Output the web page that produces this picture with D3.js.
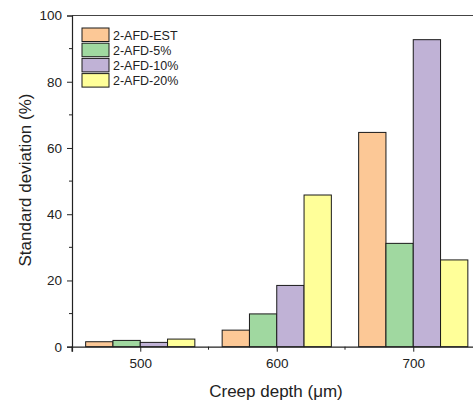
<!DOCTYPE html>
<html><head><meta charset="utf-8">
<script src="https://cdn.jsdelivr.net/npm/d3@7"></script>
<style>body{margin:0;background:#fff}svg{display:block}text{font-family:"Liberation Sans",Arial,sans-serif;fill:#222}</style>
</head><body>
<script>
const categories = [500, 600, 700];
const seriesNames = ["2-AFD-EST", "2-AFD-5%", "2-AFD-10%", "2-AFD-20%"];
const seriesColors = ["#fcc896", "#a0d8a0", "#c0b2d6", "#ffff99"];
const valuesEST = [1.5, 5.0, 64.7];
const values5 = [1.9, 9.9, 31.2];
const values10 = [1.3, 18.5, 92.7];
const values20 = [2.3, 45.8, 26.2];
const series = [valuesEST, values5, values10, values20];
const yTicks = [0, 20, 40, 60, 80, 100];
const yMinor = [10, 30, 50, 70, 90];
const xTicks = [500, 600, 700];
const xMinor = [550, 650];

const W = 473, H = 403;
const svg = d3.select("body").append("svg").attr("width", W).attr("height", H);
const x = d3.scaleLinear().domain([450, 750]).range([72, 481.5]);
const y = d3.scaleLinear().domain([0, 100]).range([346.7, 15.5]);
const barW = 20;

const g = svg.append("g");
series.forEach((vals, si) => {
  g.selectAll(null).data(vals).enter().append("rect")
    .attr("x", (d, i) => x(categories[i] - 40 + si * barW))
    .attr("width", x(barW) - x(0))
    .attr("y", d => y(d))
    .attr("height", d => y(0) - y(d))
    .attr("fill", seriesColors[si])
    .attr("stroke", "#1a1a1a").attr("stroke-width", 1);
});

// frame top
svg.append("line").attr("x1", x(450)).attr("x2", W).attr("y1", y(100)).attr("y2", y(100))
  .attr("stroke", "#444").attr("stroke-width", 1.2);

const fontF = '"Liberation Sans",Arial,sans-serif';
// y axis
const ya = svg.append("g").attr("transform", `translate(${x(450)},0)`)
  .call(d3.axisLeft(y).tickValues(yTicks).tickSize(5).tickPadding(5).tickFormat(d3.format("d")));
ya.selectAll(null).data(yMinor).enter().append("line")
  .attr("x1", -3).attr("x2", 0).attr("y1", d => y(d)).attr("y2", d => y(d)).attr("stroke", "#222");
// x axis
const xa = svg.append("g").attr("transform", `translate(0,${y(0)})`)
  .call(d3.axisBottom(x).tickValues(xTicks).tickSize(5).tickPadding(7).tickFormat(d3.format("d")));
xa.selectAll(null).data(xMinor).enter().append("line")
  .attr("y1", 0).attr("y2", 3).attr("x1", d => x(d)).attr("x2", d => x(d)).attr("stroke", "#222");
xa.append("line").attr("x1", x(450)).attr("x2", x(450)).attr("y1", 0).attr("y2", 5).attr("stroke", "#222");
[ya, xa].forEach(a => {
  a.select(".domain").attr("stroke", "#222").attr("stroke-width", 1.2);
  a.selectAll(".tick line").attr("stroke", "#222");
  a.selectAll(".tick text").attr("font-size", 13.5).attr("fill", "#222").attr("font-family", fontF);
});

svg.append("text").attr("x", 276).attr("y", 397).attr("text-anchor", "middle")
  .attr("font-size", 17).text("Creep depth (μm)");
svg.append("text").attr("transform", "translate(31,180) rotate(-90)").attr("text-anchor", "middle")
  .attr("font-size", 17).text("Standard deviation (%)");

// legend
const lg = svg.append("g");
seriesNames.forEach((n, i) => {
  const yy = 28 + i * 15.2;
  lg.append("rect").attr("x", 82).attr("y", yy).attr("width", 27).attr("height", 13.5)
    .attr("fill", seriesColors[i]).attr("stroke", "#1a1a1a");
  lg.append("text").attr("x", 113).attr("y", yy + 11.5).attr("font-size", 12.5).text(n);
});
</script>
</body></html>
